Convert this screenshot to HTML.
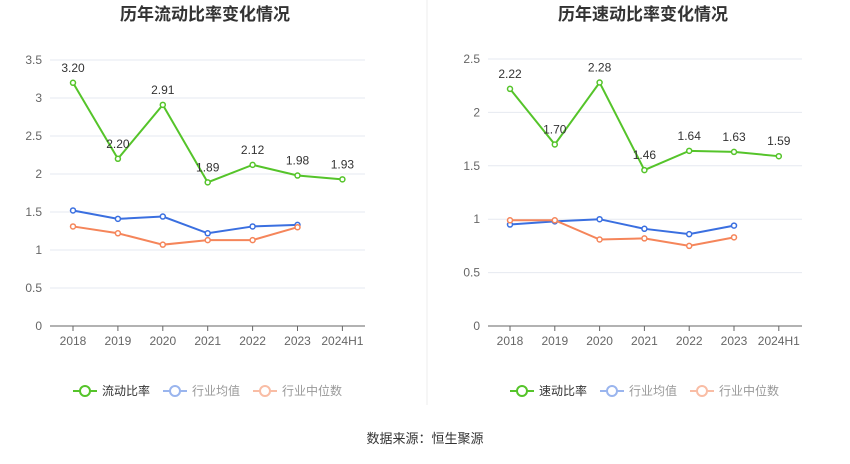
<!DOCTYPE html>
<html><head><meta charset="utf-8"><style>
body{margin:0;width:850px;height:459px;background:#fff;overflow:hidden;font-family:"Liberation Sans","Noto Sans CJK SC",sans-serif;}
svg text{font-family:"Liberation Sans","Noto Sans CJK SC",sans-serif;}
</style></head><body>
<svg id="s" width="850" height="459">
<line x1="427" y1="0" x2="427" y2="405" stroke="#eee"/>
<text x="425" y="443" text-anchor="middle" font-size="13" fill="#333">数据来源：恒生聚源</text>
</svg>
<script>
const categories=["2018","2019","2020","2021","2022","2023","2024H1"];
const currentRatio=[3.20,2.20,2.91,1.89,2.12,1.98,1.93];
const currentAvg=[1.52,1.41,1.44,1.22,1.31,1.33];
const currentMedian=[1.31,1.22,1.07,1.13,1.13,1.30];
const currentTicks=[0,0.5,1,1.5,2,2.5,3,3.5];
const quickRatio=[2.22,1.70,2.28,1.46,1.64,1.63,1.59];
const quickAvg=[0.95,0.98,1.00,0.91,0.86,0.94];
const quickMedian=[0.99,0.99,0.81,0.82,0.75,0.83];
const quickTicks=[0,0.5,1,1.5,2,2.5];
const svg=document.getElementById('s');const NS='http://www.w3.org/2000/svg';
function mk(t,a,p){const e=document.createElementNS(NS,t);for(const k in a)e.setAttribute(k,a[k]);(p||svg).appendChild(e);return e;}
function chart(o){
 const g=mk('g',{});
 
 
 const max=o.ticks[o.ticks.length-1];
 const y=v=>326-v/max*(326-o.top);
 const x=i=>o.x0+i*o.step;
 const t=mk('text',{x:o.cx,y:20,'text-anchor':'middle','font-size':17,'font-weight':'bold',fill:'#333'},g);t.textContent=o.title;
 
 
 o.ticks.forEach(v=>{
  if(v>0){const l=mk('line',{x1:o.left,x2:o.right,y1:y(v),y2:y(v),stroke:'#e6e9f0'},g);
  
  }
  const tt=mk('text',{x:o.left-8,y:y(v)+4,'text-anchor':'end','font-size':12,fill:'#666'},g);tt.textContent=v;
  
  
 });
 const ax=mk('line',{x1:o.left,x2:o.right,y1:326,y2:326,stroke:'#666'},g);
 
 
 categories.forEach((c,i)=>{
  mk('line',{x1:x(i),x2:x(i),y1:326,y2:331,stroke:'#666'},g);
  const tt=mk('text',{x:x(i),y:345,'text-anchor':'middle','font-size':12,fill:'#666'},g);tt.textContent=c;
  
  
 });
 const series=[[o.avg,'#3a6fe0','avg'],[o.med,'#f5855a','median'],[o.main,'#55c42a','main']];
 series.forEach(([d,c,n])=>{
  const p=mk('polyline',{points:d.map((v,i)=>x(i)+','+y(v)).join(' '),fill:'none',stroke:c,'stroke-width':2},g);
  
  
  d.forEach((v,i)=>{const ci=mk('circle',{cx:x(i),cy:y(v),r:2.5,fill:'#fff',stroke:c,'stroke-width':1.5},g);
   
   
   if(n=='main'){const lt=mk('text',{x:x(i),y:y(v)-11,'text-anchor':'middle','font-size':12,fill:'#333'},g);lt.textContent=v.toFixed(2);
    
    }
  });
 });
 const leg=[[o.lx,'#55c42a',o.label,'#333'],[o.lx+90,'#9ab5ee','行业均值','#999'],[o.lx+180,'#f9bda5','行业中位数','#999']];
 leg.forEach(([lx,c,txt,tc])=>{
  const lg=mk('g',{},g);
  
  
  mk('line',{x1:lx-12,x2:lx+12,y1:391,y2:391,stroke:c,'stroke-width':2},lg);
  mk('circle',{cx:lx,cy:391,r:5,fill:'#fff',stroke:c,'stroke-width':2},lg);
  const tt=mk('text',{x:lx+17,y:395,'font-size':12,fill:tc},lg);tt.textContent=txt;
 });
}
chart({name:'current-ratio-chart',title:'历年流动比率变化情况',cx:205,top:60,left:50,right:365,x0:73,step:44.9,ticks:currentTicks,main:currentRatio,avg:currentAvg,med:currentMedian,lx:85,label:'流动比率'});
chart({name:'quick-ratio-chart',title:'历年速动比率变化情况',cx:643,top:59,left:488,right:802,x0:510,step:44.8,ticks:quickTicks,main:quickRatio,avg:quickAvg,med:quickMedian,lx:522,label:'速动比率'});
</script>
</body></html>
